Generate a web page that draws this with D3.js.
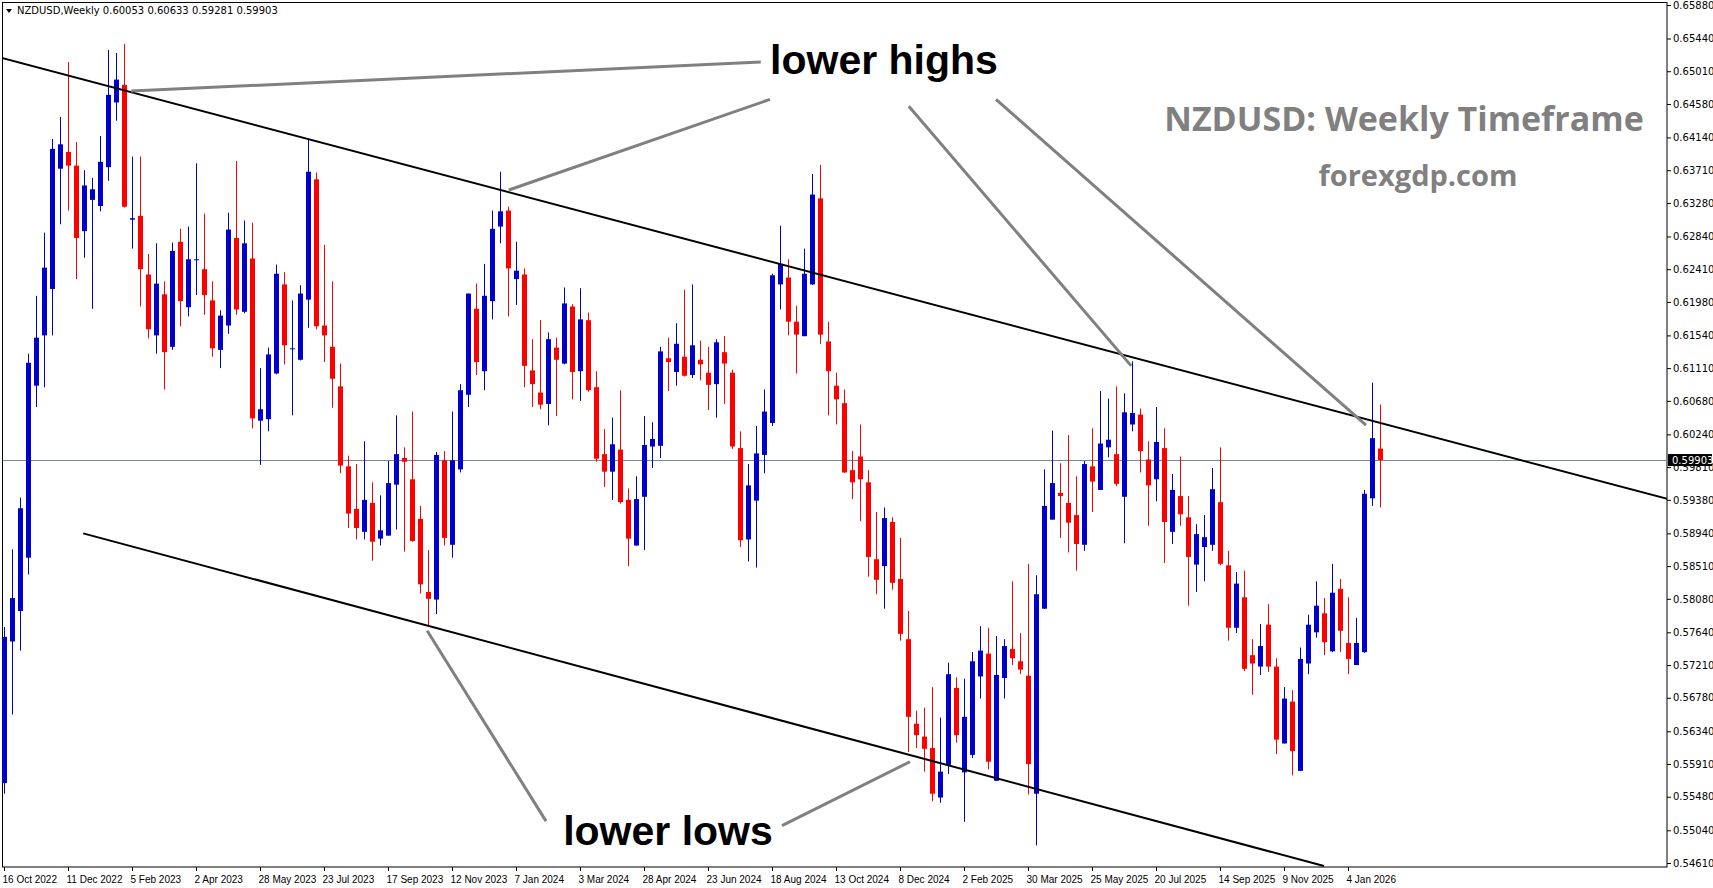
<!DOCTYPE html>
<html>
<head>
<meta charset="utf-8">
<script src="https://cdn.jsdelivr.net/npm/d3@7"></script>
<style>
  body { margin: 0; background: #fff; }
  svg { display: block; }
</style>
</head>
<body>
<div class="chart"></div>
<script>
// weekly candles, 16 Oct 2022 .. 25 Jan 2026
var opens = [0.5566,0.5752,0.5792,0.5862,0.6088,0.6154,0.6215,0.6373,0.6395,0.6377,0.6291,0.6332,0.6324,0.6375,0.6460,0.6483,0.6306,0.6311,0.6234,0.6154,0.6208,0.6139,0.6277,
  0.6191,0.6253,0.6241,0.6200,0.6135,0.6167,0.6282,0.6185,0.6255,0.6042,0.6044,0.6104,0.6221,0.6136,0.6122,0.6201,0.6359,0.6167,0.6139,0.6087,0.5982,0.5926,
  0.5896,0.5934,0.5887,0.5891,0.5958,0.5993,0.5965,0.5913,0.5817,0.5807,0.5990,0.5879,0.5978,0.6076,0.6189,0.6107,0.6199,0.6297,0.6318,0.6228,0.6234,
  0.6108,0.6079,0.6064,0.6138,0.6117,0.6192,0.6107,0.6174,0.6086,0.5998,0.5975,0.6004,0.5938,0.5878,0.5942,0.6008,0.6009,
  0.6124,0.6106,0.6126,0.6102,0.6122,0.6105,0.6090,0.6132,0.6105,0.6006,0.5886,0.5937,0.5997,0.6039,0.6221,0.6230,0.6172,0.6153,0.6221,0.6334,0.6146,0.6088,
  0.6065,0.5977,0.5995,0.5961,0.5860,0.5851,0.5909,0.5834,0.5755,0.5644,0.5627,0.5612,0.5547,0.5590,0.5691,0.5580,0.5603,0.5706,0.5736,0.5569,0.5704,0.5742,
  0.5726,0.5707,0.5552,0.5795,0.5912,0.5947,0.5934,0.5918,0.5879,0.5982,0.5951,0.6007,0.5998,0.5942,0.6037,0.6050,0.5991,0.5965,0.6006,0.5896,0.5943,0.5915,
  0.5853,0.5876,0.5879,0.5935,0.5852,0.5770,0.5810,0.5734,0.5719,0.5774,0.5719,0.5618,0.5673,0.5582,0.5723,0.5764,0.5789,0.5739,0.5821,0.5750,0.5721,0.5738,
  0.5940,0.60053];
var highs = [0.5771,0.5873,0.5941,0.6130,0.6206,0.6289,0.6412,0.6441,0.6513,0.6408,0.6371,0.6361,0.6416,0.6529,0.6525,0.6537,0.6389,0.6389,0.6261,0.6275,0.6225,0.6276,0.6294,
  0.6297,0.6380,0.6314,0.6225,0.6187,0.6315,0.6383,0.6305,0.6302,0.6111,0.6138,0.6247,0.6237,0.6200,0.6220,0.6412,0.6368,0.6273,0.6225,0.6117,0.5996,0.5985,
  0.6015,0.5961,0.5944,0.5989,0.6049,0.6007,0.6054,0.5930,0.5872,0.6001,0.6002,0.6054,0.6090,0.6209,0.6222,0.6248,0.6318,0.6369,0.6323,0.6277,0.6242,
  0.6149,0.6174,0.6158,0.6151,0.6217,0.6195,0.6216,0.6184,0.6107,0.6031,0.6046,0.6082,0.5953,0.5969,0.6048,0.6040,0.6139,
  0.6151,0.6170,0.6214,0.6221,0.6147,0.6139,0.6149,0.6153,0.6109,0.6028,0.5985,0.6035,0.6083,0.6235,0.6298,0.6254,0.6193,0.6268,0.6366,0.6378,0.6172,0.6105,
  0.6083,0.6002,0.6037,0.5977,0.5922,0.5928,0.5915,0.5888,0.5792,0.5661,0.5665,0.5692,0.5652,0.5724,0.5705,0.5703,0.5738,0.5772,0.5770,0.5759,0.5755,0.5831,
  0.5763,0.5854,0.5839,0.5978,0.6029,0.5986,0.6023,0.5969,0.5989,0.6032,0.6081,0.6071,0.6087,0.6078,0.6120,0.6058,0.6015,0.6060,0.6032,0.5972,0.5995,0.5943,
  0.5906,0.5918,0.5980,0.6007,0.5871,0.5843,0.5845,0.5755,0.5775,0.5801,0.5730,0.5692,0.5688,0.5744,0.5787,0.5831,0.5809,0.5854,0.5834,0.5810,0.5783,0.5951,
  0.6092,0.60633];
var lows = [0.5552,0.5656,0.5740,0.5840,0.6060,0.6086,0.6154,0.6300,0.6318,0.6228,0.6256,0.6189,0.6317,0.6357,0.6436,0.6322,0.6268,0.6192,0.6150,0.6130,0.6083,0.6135,0.6166,
  0.6179,0.6207,0.6181,0.6126,0.6111,0.6156,0.6181,0.6183,0.6032,0.5984,0.6028,0.6103,0.6116,0.6049,0.6121,0.6164,0.6162,0.6119,0.6059,0.5973,0.5901,0.5886,
  0.5886,0.5858,0.5878,0.5891,0.5899,0.5870,0.5883,0.5815,0.5773,0.5788,0.5878,0.5862,0.5974,0.6060,0.6102,0.6082,0.6175,0.6275,0.6179,0.6194,0.6086,
  0.6060,0.6057,0.6036,0.6048,0.6116,0.6070,0.6068,0.6080,0.5988,0.5955,0.5938,0.5933,0.5851,0.5878,0.5872,0.5980,0.5993,
  0.6081,0.6088,0.6100,0.6098,0.6095,0.6056,0.6046,0.6064,0.6005,0.5876,0.5857,0.5849,0.5973,0.6035,0.6188,0.6154,0.6104,0.6153,0.6220,0.6143,0.6049,0.6037,
  0.5973,0.5939,0.5910,0.5837,0.5814,0.5795,0.5820,0.5753,0.5607,0.5612,0.5581,0.5542,0.5540,0.5578,0.5619,0.5515,0.5599,0.5677,0.5584,0.5569,0.5677,0.5721,
  0.5709,0.5551,0.5484,0.5795,0.5912,0.5888,0.5869,0.5845,0.5871,0.5922,0.5951,0.5994,0.5956,0.5881,0.6028,0.5974,0.5904,0.5936,0.5855,0.5880,0.5904,0.5799,
  0.5817,0.5831,0.5871,0.5852,0.5753,0.5763,0.5713,0.5682,0.5708,0.5712,0.5604,0.5618,0.5576,0.5582,0.5709,0.5757,0.5734,0.5738,0.5738,0.5709,0.5721,0.5737,
  0.5930,0.59281];
var closes = [0.5758,0.5809,0.5927,0.6118,0.6151,0.6243,0.6399,0.6405,0.6377,0.6282,0.6351,0.6346,0.6382,0.6470,0.6490,0.6323,0.6308,0.6241,0.6162,0.6222,0.6132,0.6265,0.6199,
  0.6254,0.6254,0.6207,0.6137,0.6180,0.6293,0.6188,0.6275,0.6045,0.6057,0.6129,0.6235,0.6141,0.6137,0.6209,0.6369,0.6166,0.6154,0.6097,0.5983,0.5920,0.5901,
  0.5938,0.5883,0.5898,0.5960,0.5998,0.5988,0.5884,0.5827,0.5808,0.5997,0.5888,0.5990,0.6082,0.6209,0.6119,0.6206,0.6294,0.6317,0.6242,0.6239,0.6114,
  0.6090,0.6063,0.6149,0.6122,0.6196,0.6106,0.6175,0.6082,0.5992,0.5975,0.6011,0.5935,0.5887,0.5939,0.6010,0.6018,0.6133,
  0.6119,0.6143,0.6101,0.6141,0.6116,0.6089,0.6145,0.6117,0.6008,0.5885,0.5957,0.5999,0.6054,0.6233,0.6248,0.6172,0.6155,0.6235,0.6339,0.6155,0.6107,0.6070,
  0.5974,0.5961,0.5965,0.5863,0.5833,0.5914,0.5829,0.5762,0.5653,0.5629,0.5611,0.5552,0.5581,0.5709,0.5629,0.5653,0.5726,0.5740,0.5594,0.5708,0.5746,0.5730,
  0.5715,0.5591,0.5814,0.5930,0.5960,0.5943,0.5908,0.5880,0.5985,0.5962,0.6012,0.6017,0.5959,0.6053,0.6052,0.6002,0.5957,0.6014,0.5909,0.5951,0.5919,0.5863,
  0.5893,0.5889,0.5952,0.5854,0.5770,0.5828,0.5716,0.5723,0.5746,0.5719,0.5623,0.5677,0.5608,0.5729,0.5774,0.5799,0.5751,0.5816,0.5766,0.5729,0.5750,0.5946,
  0.6019,0.59903];

var dateLabels = ["16 Oct 2022","11 Dec 2022","5 Feb 2023","2 Apr 2023","28 May 2023","23 Jul 2023","17 Sep 2023","12 Nov 2023",
  "7 Jan 2024","3 Mar 2024","28 Apr 2024","23 Jun 2024","18 Aug 2024","13 Oct 2024","8 Dec 2024","2 Feb 2025","30 Mar 2025",
  "25 May 2025","20 Jul 2025","14 Sep 2025","9 Nov 2025","4 Jan 2026"];
var priceTicks = [0.65880,0.65440,0.65010,0.64580,0.64140,0.63710,0.63280,0.62840,0.62410,0.61980,0.61540,0.61110,0.60680,
  0.60240,0.59810,0.59380,0.58940,0.58510,0.58080,0.57640,0.57210,0.56780,0.56340,0.55910,0.55480,0.55040,0.54610];
var lastPrice = 0.59903;

// channel lines [index, price]
var upperLine = [[-0.5, 0.6519], [208, 0.5939]];
var lowerLine = [[9.9, 0.5894], [165, 0.5457]];
// grey annotation pointers [index, price]
var pointers = [
  [[15.9, 0.6475], [94.6, 0.6513]],
  [[63.1, 0.6345], [95.75, 0.6464]],
  [[113.1, 0.6455], [140.9, 0.6114]],
  [[124, 0.6464], [170.25, 0.6036]],
  [[52.9, 0.5766], [67.75, 0.5516]],
  [[97.25, 0.5510], [113.25, 0.5594]]
];
var notes = [
  { text: "lower highs", i: 110, p: 0.6498 },
  { text: "lower lows", i: 83, p: 0.5484 }
];

var width = 1713, height = 888;
var plotRight = 1667, plotBottom = 867;

var svg = d3.select(".chart").append("svg")
  .attr("width", width).attr("height", height);

var x = d3.scaleLinear().domain([0, 172]).range([4, 1380]);
var y = d3.scaleLinear().domain([0.5461, 0.6588]).range([863, 5]);

var candles = opens.map(function(o, i) {
  return { i: i, o: o, h: highs[i], l: lows[i], c: closes[i] };
});

// frame
svg.append("rect").attr("x", 2.5).attr("y", 2.5)
  .attr("width", plotRight - 2.5).attr("height", plotBottom - 2.5)
  .attr("fill", "none").attr("stroke", "#000");

// current price line
svg.append("line")
  .attr("x1", 3).attr("x2", plotRight)
  .attr("y1", Math.round(y(lastPrice)) + 0.5).attr("y2", Math.round(y(lastPrice)) + 0.5)
  .attr("stroke", "#778899").attr("stroke-width", 1);

// candles
var g = svg.append("g");
g.selectAll(".wick").data(candles).enter().append("line")
  .attr("x1", function(d) { return Math.round(x(d.i)) + 0.5; })
  .attr("x2", function(d) { return Math.round(x(d.i)) + 0.5; })
  .attr("y1", function(d) { return y(d.h); })
  .attr("y2", function(d) { return y(d.l); })
  .attr("stroke", function(d) { return d.c >= d.o ? "#0000cc" : "#ff0000"; })
  .attr("stroke-width", 1);
g.selectAll(".body").data(candles).enter().append("rect")
  .attr("x", function(d) { return Math.round(x(d.i)) - 2; })
  .attr("width", 5)
  .attr("y", function(d) { return y(Math.max(d.o, d.c)); })
  .attr("height", function(d) { return Math.max(1, Math.abs(y(d.o) - y(d.c))); })
  .attr("fill", function(d) { return d.c >= d.o ? "#0000cc" : "#ff0000"; });

// channel lines, clipped to plot
svg.append("clipPath").attr("id", "clip").append("rect")
  .attr("x", 3).attr("y", 3).attr("width", plotRight - 3).attr("height", plotBottom - 3);
var line = d3.line().x(function(d) { return x(d[0]); }).y(function(d) { return y(d[1]); });
[upperLine, lowerLine].forEach(function(l) {
  svg.append("path").attr("d", line(l)).attr("clip-path", "url(#clip)")
    .attr("fill", "none").attr("stroke", "#000").attr("stroke-width", 2);
});
pointers.forEach(function(l) {
  svg.append("path").attr("d", line(l))
    .attr("fill", "none").attr("stroke", "#808080").attr("stroke-width", 3);
});
notes.forEach(function(n) {
  svg.append("text").attr("x", x(n.i)).attr("y", y(n.p))
    .attr("text-anchor", "middle")
    .style("font", "bold 41px 'Liberation Sans', Arial, sans-serif")
    .attr("fill", "#000").text(n.text);
});

// titles
svg.append("text").attr("x", 1404).attr("y", 131).attr("text-anchor", "middle")
  .style("font", "bold 34px 'Open Sans', 'DejaVu Sans', sans-serif")
  .attr("fill", "#808080").text("NZDUSD: Weekly Timeframe");
svg.append("text").attr("x", 1418).attr("y", 186).attr("text-anchor", "middle")
  .style("font", "bold 29px 'Open Sans', 'DejaVu Sans', sans-serif")
  .attr("fill", "#808080").text("forexgdp.com");

// header
svg.append("path").attr("d", "M6,9 L12,9 L9,13 Z").attr("fill", "#000");
svg.append("text").attr("x", 17).attr("y", 14)
  .style("font", "10px 'DejaVu Sans', sans-serif").attr("fill", "#000")
  .text("NZDUSD,Weekly  0.60053 0.60633 0.59281 0.59903");

// price axis
var yAxis = d3.axisRight(y).tickValues(priceTicks).tickSize(4)
  .tickFormat(d3.format(".5f"));
var ya = svg.append("g").attr("transform", "translate(" + plotRight + ",0)").call(yAxis);
ya.select(".domain").remove();
ya.selectAll("text").style("font", "10px 'DejaVu Sans', sans-serif").attr("fill", "#000").attr("x", 6);
// label hidden behind the price tag, as in the terminal
ya.selectAll(".tick").filter(function(d) { return Math.abs(d - lastPrice) < 0.0006; })
  .select("text").attr("dy", "0.55em");

// last price tag
svg.append("rect").attr("x", plotRight + 1).attr("y", y(lastPrice) - 6)
  .attr("width", 44).attr("height", 12).attr("fill", "#000");
svg.append("text").attr("x", plotRight + 5).attr("y", y(lastPrice) + 4)
  .style("font", "10px 'DejaVu Sans', sans-serif").attr("fill", "#fff")
  .text(d3.format(".5f")(lastPrice));

// date axis
var xAxis = d3.axisBottom(x).tickValues(dateLabels.map(function(d, k) { return k * 8; }))
  .tickSize(4).tickFormat(function(d) { return dateLabels[d / 8]; });
var xa = svg.append("g").attr("transform", "translate(0," + plotBottom + ")").call(xAxis);
xa.select(".domain").remove();
xa.selectAll("text").style("font", "10px 'Liberation Sans', Arial, sans-serif").attr("fill", "#000")
  .attr("text-anchor", "start").attr("x", -2).attr("dy", "0.9em");
</script>
</body>
</html>
